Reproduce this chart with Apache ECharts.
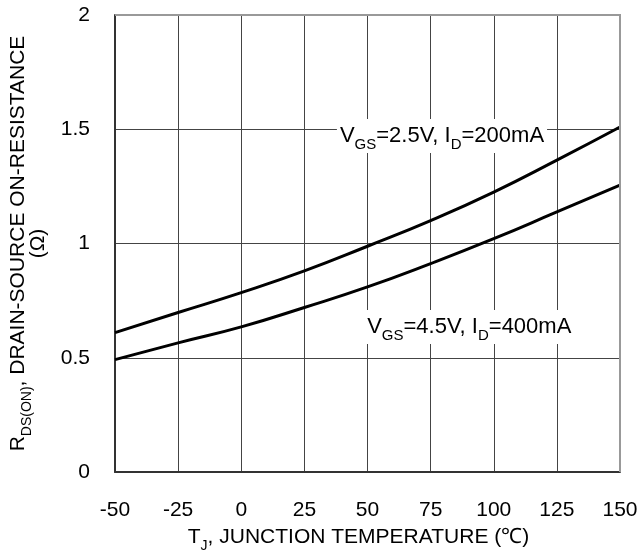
<!DOCTYPE html>
<html>
<head>
<meta charset="utf-8">
<script src="https://cdn.jsdelivr.net/npm/echarts@6/dist/echarts.min.js"></script>
<style>
html, body { margin: 0; padding: 0; background: #fff; }
#chart { width: 638px; height: 552px; }
</style>
</head>
<body>
<div id="chart"></div>
<script>
// junction temperature, degC
var temps = [-50, -25, 0, 25, 50, 75, 100, 125, 150];
// RDS(ON) in ohm
var rdsVgs25 = [0.61, 0.698, 0.785, 0.88, 0.988, 1.10, 1.225, 1.365, 1.51];
var rdsVgs45 = [0.492, 0.565, 0.635, 0.72, 0.81, 0.912, 1.021, 1.138, 1.255];
var yTicks = [0, 0.5, 1, 1.5, 2];

var font = 'Liberation Sans, Arial, sans-serif';

function pairs(xs, ys) {
	var out = [];
	for (var i = 0; i < xs.length; i++) {
		out.push([xs[i], ys[i]]);
	}
	return out;
}

function makeRich(size, sub, lh) {
	return {
		n: { fontSize: size, fontFamily: font, color: '#000', lineHeight: lh, verticalAlign: 'bottom' },
		s: { fontSize: sub, fontFamily: font, color: '#000', lineHeight: lh, verticalAlign: 'bottom', padding: [0, 0, -5, 0] }
	};
}

function curveLabel(x, y, text) {
	return {
		coord: [x, y],
		symbol: 'rect',
		symbolSize: 1,
		itemStyle: { color: 'rgba(0,0,0,0)' },
		label: {
			show: true,
			position: 'inside',
			formatter: text,
			backgroundColor: '#fff',
			padding: [4, 3, 6, 3],
			rich: makeRich(22, 15, 24)
		}
	};
}

var chart = echarts.init(document.getElementById('chart'));
chart.setOption({
	animation: false,
	grid: { left: 115, right: 18, top: 15, bottom: 80, outerBoundsMode: 'none' },
	xAxis: {
		type: 'value',
		min: -50,
		max: 150,
		interval: 25,
		name: '{n|T}{s|J}{n|, JUNCTION TEMPERATURE (℃)}',
		nameLocation: 'middle',
		nameGap: 52,
		nameTextStyle: { rich: makeRich(21, 14, 24), padding: [0, 18, 0, 0] },
		axisLine: { show: true, onZero: false, lineStyle: { color: '#333', width: 2 } },
		axisTick: { show: false },
		axisLabel: { fontSize: 21, fontFamily: font, color: '#000', margin: 28 },
		splitLine: { show: true, lineStyle: { color: '#444', width: 1 } }
	},
	yAxis: {
		type: 'value',
		min: 0,
		max: 2,
		interval: 0.5,
		name: '{n|R}{s|DS(ON)}{n|, DRAIN-SOURCE ON-RESISTANCE}\n{n|(Ω)}',
		nameLocation: 'middle',
		nameRotate: 90,
		nameGap: 66,
		nameTextStyle: { rich: makeRich(21, 14, 20), align: 'center' },
		axisLine: { show: true, onZero: false, lineStyle: { color: '#333', width: 2 } },
		axisTick: { show: false },
		axisLabel: {
			fontSize: 21, fontFamily: font, color: '#000', margin: 25,
			formatter: function (v) { return yTicks.indexOf(v) > -1 ? String(v) : ''; }
		},
		splitLine: { show: true, lineStyle: { color: '#444', width: 1 } }
	},
	series: [
		{
			type: 'line',
			data: pairs(temps, rdsVgs25),
			smooth: true,
			symbol: 'none',
			lineStyle: { color: '#000', width: 3 },
			markPoint: {
				data: [curveLabel(79.5, 1.47, '{n|V}{s|GS}{n|=2.5V, I}{s|D}{n|=200mA}')]
			},
			z: 3
		},
		{
			type: 'line',
			data: pairs(temps, rdsVgs45),
			smooth: true,
			symbol: 'none',
			lineStyle: { color: '#000', width: 3 },
			markPoint: {
				data: [curveLabel(90.3, 0.635, '{n|V}{s|GS}{n|=4.5V, I}{s|D}{n|=400mA}')]
			},
			z: 3
		}
	]
});

// top/right frame in lighter grey, placed through the axis scale
var gridTop = chart.convertToPixel({ gridIndex: 0 }, [-50, 2]);
var gridRight = chart.convertToPixel({ gridIndex: 0 }, [150, 0]);
chart.setOption({
	graphic: [{
		type: 'polyline',
		silent: true,
		z: 10,
		shape: { points: [gridTop, [gridRight[0], gridTop[1]], gridRight] },
		style: { stroke: '#999', lineWidth: 2, fill: null }
	}]
});
</script>
</body>
</html>
